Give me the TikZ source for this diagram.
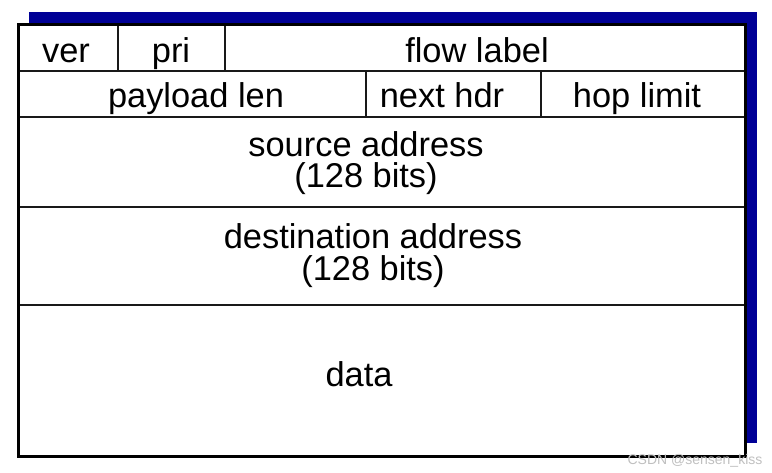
\documentclass[tikz,border=0pt]{standalone}
\usepackage{fontspec}
\setmainfont{Liberation Sans}
\definecolor{shadowblue}{RGB}{0,0,150}
\begin{document}
\begin{tikzpicture}[x=1pt,y=-1pt,
  lbl/.style={anchor=base,inner sep=0pt,font=\fontsize{34.4}{40}\selectfont},
  grid/.style={line width=2.4pt,black!90},
  frame/.style={line width=3pt,black}]
\useasboundingbox (0,0) rectangle (772,472);
% shadow
\fill[shadowblue] (29,12) rectangle (757,443);
% main box
\fill[white] (18,24) rectangle (745,456);
% rows
\draw[grid] (18,71) -- (745,71);
\draw[grid] (18,117) -- (745,117);
\draw[grid] (18,207) -- (745,207);
\draw[grid] (18,305) -- (745,305);
% columns
\draw[grid] (118,24) -- (118,71);
\draw[grid] (225,24) -- (225,71);
\draw[grid] (366,71) -- (366,117);
\draw[grid] (541,71) -- (541,117);
\draw[frame] (18,24) rectangle (745,456);
% labels
\node[lbl] (ver) at (66,62) {ver};
\node[lbl] (pri) at (171,62) {pri};
\node[lbl] (flow) at (477,62) {flow label};
\node[lbl] (plen) at (196,107) {payload len};
\node[lbl] (nhdr) at (442,107) {next hdr};
\node[lbl] (hop) at (637,107) {hop limit};
\node[lbl] (src) at (366,156) {source address};
\node[lbl] (srcb) at (366,187) {(128 bits)};
\node[lbl] (dst) at (373,248) {destination address};
\node[lbl] (dstb) at (373,280) {(128 bits)};
\node[lbl] (data) at (359,386) {data};
\node[anchor=base,inner sep=0pt,font=\fontsize{14}{16}\selectfont,text=black!25] (wm) at (695,464) {CSDN @sensen\_kiss};
\end{tikzpicture}
\end{document}
